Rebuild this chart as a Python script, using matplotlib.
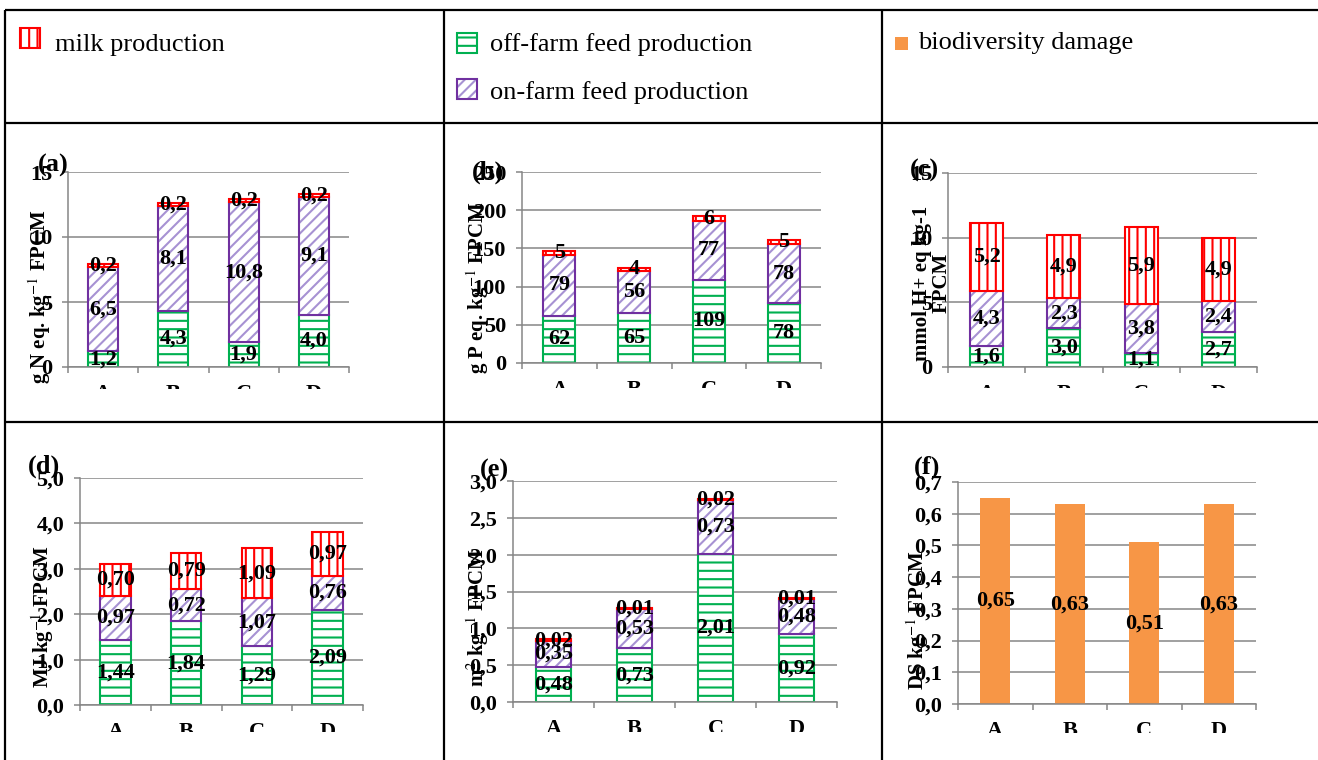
import numpy as np
import matplotlib
matplotlib.use('Agg')
import matplotlib.pyplot as plt
from matplotlib.patches import Rectangle
from matplotlib.transforms import Bbox, TransformedBbox

plt.rcParams['font.family'] = ['Liberation Serif', 'DejaVu Serif']
plt.rcParams['mathtext.fontset'] = 'stix'
plt.rcParams['hatch.linewidth'] = 1.5

W, H = 1318, 760

cats = ['A', 'B', 'C', 'D']

# (a) g N eq
n_off = [1.2, 4.3, 1.9, 4.0]
n_on = [6.5, 8.1, 10.8, 9.1]
n_milk = [0.2, 0.2, 0.2, 0.2]
# (b) g P eq
p_off = [62, 65, 109, 78]
p_on = [79, 56, 77, 78]
p_milk = [5, 4, 6, 5]
# (c) acidification
ac_off = [1.6, 3.0, 1.1, 2.7]
ac_on = [4.3, 2.3, 3.8, 2.4]
ac_milk = [5.2, 4.9, 5.9, 4.9]
# (d) energy
en_off = [1.44, 1.84, 1.29, 2.09]
en_on = [0.97, 0.72, 1.07, 0.76]
en_milk = [0.70, 0.79, 1.09, 0.97]
# (e) land
land_off = [0.48, 0.73, 2.01, 0.92]
land_on = [0.35, 0.53, 0.73, 0.48]
land_milk = [0.02, 0.01, 0.02, 0.01]
# (f) biodiversity
biodiv = [0.65, 0.63, 0.51, 0.63]

GREEN = '#00B050'
PURPLE = '#7030A0'
LILAC = '#A792D3'
RED = '#FF0000'
ORANGE = '#F79646'
GRID = '#868686'

FS = 16  # numbers and ticks

fig = plt.figure(figsize=(W / 100, H / 100), dpi=100)


def px_ax(x0, y0, x1, y1):
    return fig.add_axes([x0 / W, 1 - y1 / H, (x1 - x0) / W, (y1 - y0) / H])


def fmt(v, d):
    return f'{v:.{d}f}'.replace('.', ',')


def style(ax, top, step, dec, clip_y):
    ax.set_xlim(-0.5, 3.5)
    ax.set_ylim(0, top)
    yt = np.arange(0, top + step / 2, step)
    ax.set_yticks(yt)
    ax.set_yticklabels([fmt(t, dec) for t in yt])
    ax.yaxis.grid(True, color=GRID, lw=1.1)
    ax.set_axisbelow(True)
    for s in ['top', 'right']:
        ax.spines[s].set_visible(False)
    for s in ['left', 'bottom']:
        ax.spines[s].set_color(GRID)
        ax.spines[s].set_linewidth(1.1)
    ax.tick_params(axis='y', direction='out', length=4.5, width=1.1,
                   color=GRID, pad=7, labelsize=FS)
    ax.set_xticks(range(4))
    ax.set_xticklabels(cats)
    ax.set_xticks(np.arange(-0.5, 4, 1), minor=True)
    ax.tick_params(axis='x', which='major', length=0, pad=12, labelsize=FS)
    ax.tick_params(axis='x', which='minor', direction='out', length=4.5,
                   width=1.1, color=GRID)
    clip = TransformedBbox(Bbox.from_extents(0, 1 - clip_y / H, 1, 1), fig.transFigure)
    for lbl in ax.get_yticklabels():
        lbl.set_fontweight('bold')
    for lbl in ax.get_xticklabels():
        lbl.set_fontweight('bold')
        lbl.set_clip_box(clip)
        lbl.set_clip_on(True)


def stacked(ax, off, on, milk, dec):
    x = np.arange(4)
    w = 0.43
    off = np.array(off, float)
    on = np.array(on, float)
    milk = np.array(milk, float)
    ax.bar(x, off, w, color='white', edgecolor=GREEN, hatch='--', lw=1.5)
    ax.bar(x, on, w, bottom=off, color='white', edgecolor=LILAC, hatch='///', lw=0)
    ax.bar(x, on, w, bottom=off, fill=False, edgecolor=PURPLE, lw=1.5)
    ax.bar(x, milk, w, bottom=off + on, color='white', edgecolor=RED, hatch='||', lw=1.5)
    for i in range(4):
        for b, v in [(0, off[i]), (off[i], on[i]), (off[i] + on[i], milk[i])]:
            ax.text(x[i], b + v / 2, fmt(v, dec), ha='center', va='center',
                    fontsize=FS, fontweight='bold', zorder=5)


ax = px_ax(68, 172, 349, 367)
stacked(ax, n_off, n_on, n_milk, 1)
style(ax, 15, 5, 0, 389)

ax = px_ax(522, 172, 821, 363)
stacked(ax, p_off, p_on, p_milk, 0)
style(ax, 250, 50, 0, 388)

ax = px_ax(948, 173, 1257, 367)
stacked(ax, ac_off, ac_on, ac_milk, 1)
style(ax, 15, 5, 0, 388)

ax = px_ax(80, 478, 363, 705)
stacked(ax, en_off, en_on, en_milk, 2)
style(ax, 5, 1, 1, 732)

ax = px_ax(513, 481, 837, 702)
stacked(ax, land_off, land_on, land_milk, 2)
style(ax, 3, 0.5, 1, 732)

ax = px_ax(958, 482, 1256, 704)
ax.bar(np.arange(4), biodiv, 0.4, color=ORANGE)
for i, v in enumerate(biodiv):
    ax.text(i, v / 2, fmt(v, 2), ha='center', va='center',
            fontsize=FS, fontweight='bold', zorder=5)
style(ax, 0.7, 0.1, 1, 733)

# table, legend, titles and axis titles in pixel coordinates
ov = fig.add_axes([0, 0, 1, 1])
ov.set_xlim(0, W)
ov.set_ylim(H, 0)
ov.axis('off')
ov.patch.set_alpha(0)

for y in [10, 123, 422]:
    ov.plot([5, W], [y, y], color='black', lw=1.6, solid_capstyle='butt')
for x in [5, 444, 882]:
    ov.plot([x, x], [10, H], color='black', lw=1.6, solid_capstyle='butt')

ov.add_patch(Rectangle((20, 28), 20, 20, facecolor='white', edgecolor=RED, hatch='||', lw=1.5))
ov.add_patch(Rectangle((457, 33), 20, 20, facecolor='white', edgecolor=GREEN, hatch='--', lw=1.5))
ov.add_patch(Rectangle((457, 79), 20, 20, facecolor='white', edgecolor=LILAC, hatch='///', lw=0))
ov.add_patch(Rectangle((457, 79), 20, 20, fill=False, edgecolor=PURPLE, lw=1.5))
ov.add_patch(Rectangle((895, 37), 13, 13, facecolor=ORANGE, lw=0))

leg_fs = 19
ov.text(55, 45, 'milk production', fontsize=leg_fs, va='center')
ov.text(490, 45, 'off-farm feed production', fontsize=leg_fs, va='center')
ov.text(490, 93, 'on-farm feed production', fontsize=leg_fs, va='center')
ov.text(918, 43, 'biodiversity damage', fontsize=leg_fs, va='center')

titles = ['(a)', '(b)', '(c)', '(d)', '(e)', '(f)']
title_pos = [(53, 165), (488, 172), (924, 170), (44, 466), (494, 470), (927, 467)]
for t, (x, y) in zip(titles, title_pos):
    ov.text(x, y, t, fontsize=19, fontweight='bold', ha='center', va='center')

ylabels = ['g N eq. kg$^{-1}$ FPCM', 'g P eq. kg$^{-1}$ FPCM',
           'mmol H+ eq kg-1\nFPCM', 'MJ kg$^{-1}$ FPCM',
           'm$^{2}$ kg$^{-1}$ FPCM', 'DS kg$^{-1}$ FPCM']
ylabel_pos = [(40, 297), (478, 288), (932, 283), (43, 617), (478, 618), (918, 620)]
for t, (x, y) in zip(ylabels, ylabel_pos):
    ov.text(x, y, t, fontsize=15, fontweight='bold', rotation=90,
            ha='center', va='center', linespacing=1.0)

fig.savefig('out.png', dpi=100)
